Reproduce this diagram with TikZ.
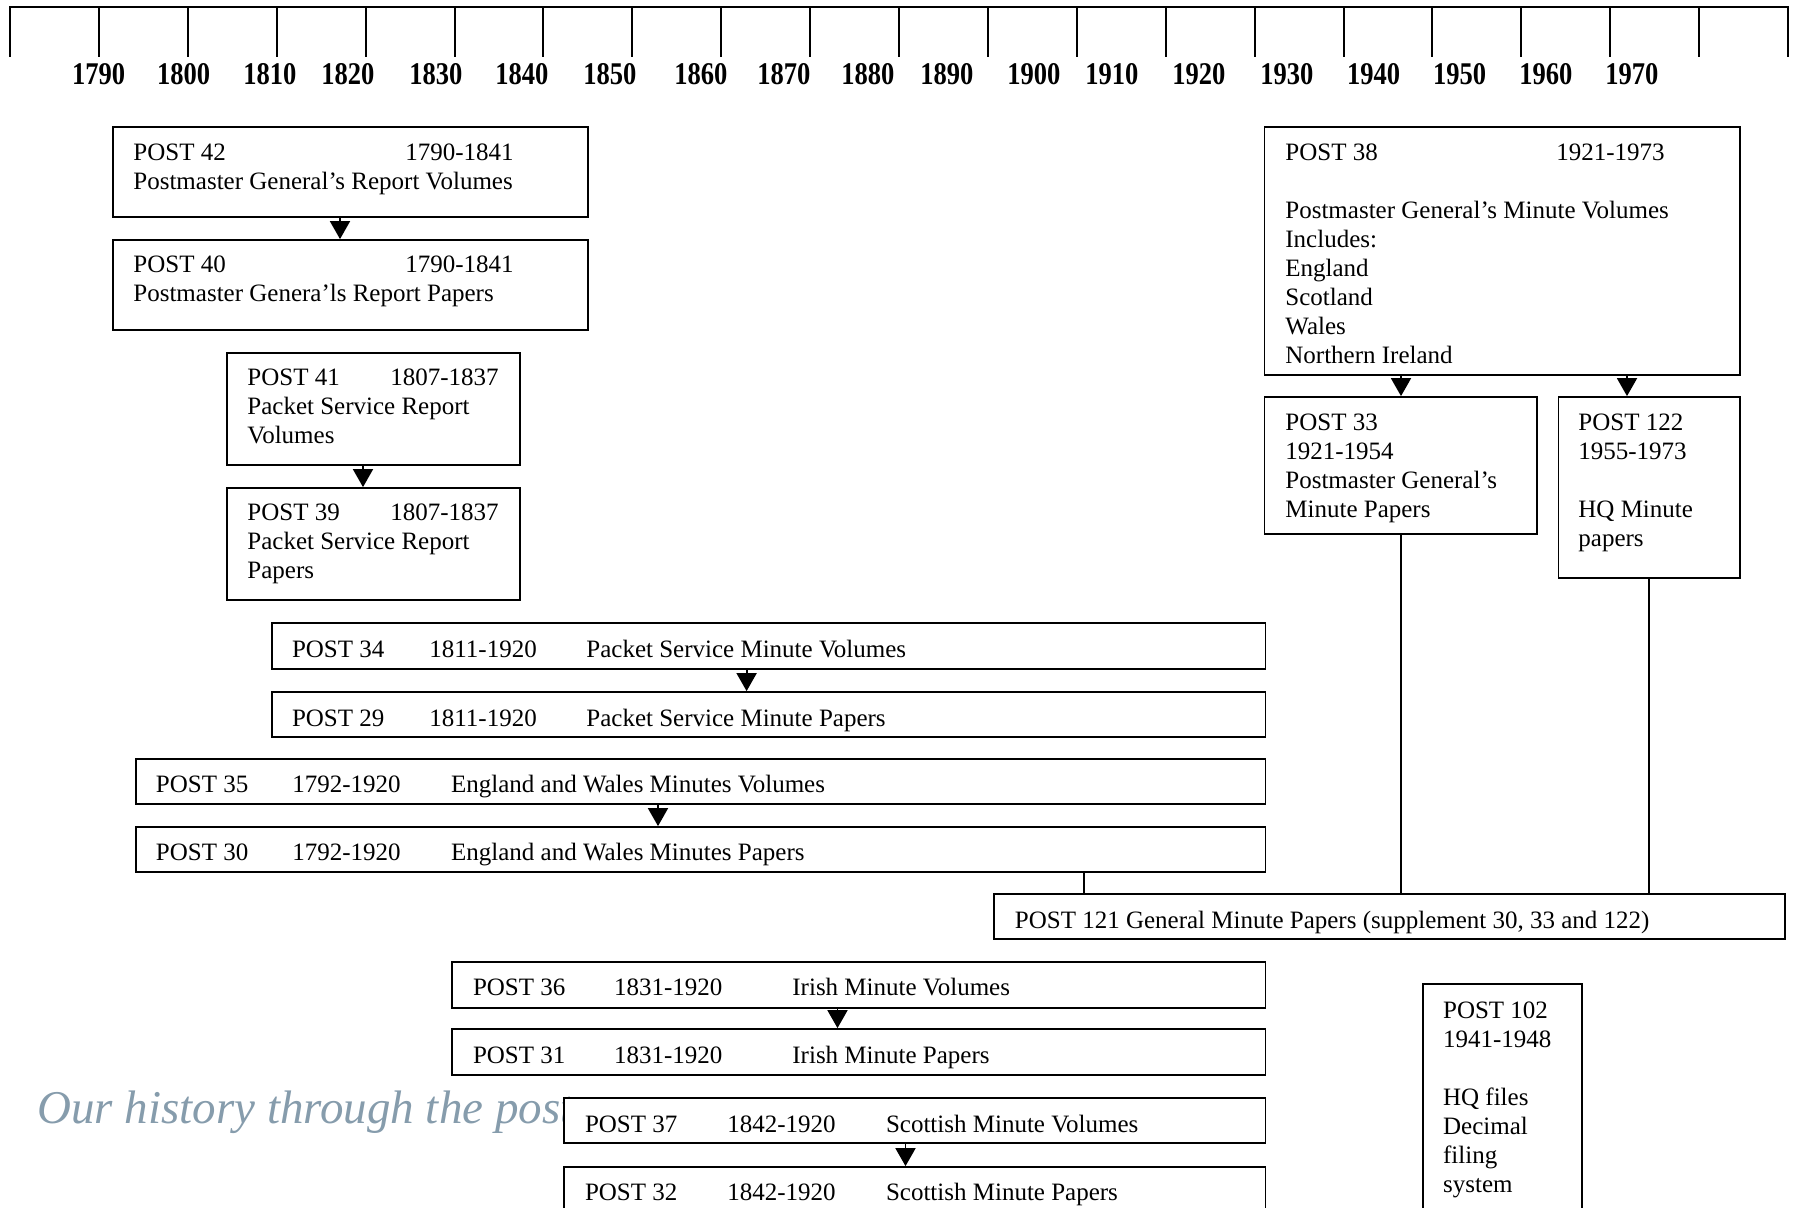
\documentclass[tikz,border=0pt]{standalone}
\usepackage{fontspec}
\setmainfont{Liberation Serif}
\usetikzlibrary{fit,arrows.meta}
\definecolor{wm}{RGB}{134,156,172}
\newcommand{\bodyfont}{\fontsize{12.5pt}{14.5pt}\selectfont}
\newcommand{\yearfont}{\fontsize{15.8pt}{18pt}\selectfont\bfseries}
\newcommand{\wmfont}{\fontsize{23.5pt}{28pt}\selectfont\itshape}
\newcommand{\boxlines}[1]{\vtop{\baselineskip=14.5pt\lineskiplimit=-100pt\halign{##\hfil\cr#1\crcr}}}
\begin{document}
\begin{tikzpicture}[x=0.5pt,y=-0.5pt,
  box/.style={draw, line width=0.9pt, fill=white, inner sep=0pt, rectangle},
  txt/.style={anchor=base west, inner sep=0pt, font=\bodyfont},
  yr/.style={anchor=base west, inner sep=0pt, font=\yearfont},
  rule/.style={line width=1pt},
  arr/.style={line width=0.9pt, -{Triangle[width=10pt,length=9pt]}},
  link/.style={line width=0.9pt}]
\useasboundingbox (0,0) rectangle (1793,1207);
\clip (0,0) rectangle (1793,1207);
% timeline
\draw[rule] (9,6.5) -- (1789,6.5);
\foreach \i in {0,...,20} \draw[rule] ({10+88.9*\i},6) -- ({10+88.9*\i},57);
\foreach \yv/\xv in {1790/71.7,1800/156.7,1810/243,1820/321,1830/409,1840/495,1850/583,1860/674,1870/757,1880/841,1890/920,1900/1007,1910/1085,1920/1172,1930/1260,1940/1346.7,1950/1432.7,1960/1519,1970/1605}
  \node[yr] (y\yv) at (\xv,84.5) {\scalebox{0.84}[1]{\yv}};
% watermark
\node[anchor=base west, inner sep=0pt, font=\wmfont, text=wm] (wm) at (37,1123) {Our history through the post};
% boxes
\node[box, fit={(113,127) (588,217)}] (p42) {};
\node[box, fit={(113,240) (588,330)}] (p40) {};
\node[box, fit={(227,353) (520,465)}] (p41) {};
\node[box, fit={(227,488) (520,600)}] (p39) {};
\node[box, fit={(272,623) (1265.5,669)}] (p34) {};
\node[box, fit={(272,692) (1265.5,737)}] (p29) {};
\node[box, fit={(136,759) (1265.5,804)}] (p35) {};
\node[box, fit={(136,827) (1265.5,872)}] (p30) {};
\node[box, fit={(994,894) (1785,939)}] (p121) {};
\node[box, fit={(452,962) (1265.5,1008)}] (p36) {};
\node[box, fit={(452,1029) (1265.5,1075)}] (p31) {};
\node[box, fit={(564,1098) (1265.5,1143)}] (p37) {};
\node[box, fit={(564,1167) (1265.5,1240)}] (p32) {};
\node[box, fit={(1264.5,127) (1740,375)}] (p38) {};
\node[box, fit={(1264.5,397) (1536.7,534)}] (p33) {};
\node[box, fit={(1558.5,397) (1740,578)}] (p122) {};
\node[box, fit={(1422.7,984) (1582.3,1240)}] (p102) {};
% connector columns
\coordinate (c1) at (340,0);
\coordinate (c2) at (363,0);
\coordinate (c3) at (746.6,0);
\coordinate (c4) at (658,0);
\coordinate (c5) at (837.5,0);
\coordinate (c6) at (905.5,0);
\coordinate (c7) at (1401,0);
\coordinate (c8) at (1627,0);
\coordinate (c9) at (1084,0);
\coordinate (c10) at (1649,0);
\draw[arr] (p42.south -| c1) -- (p40.north -| c1);
\draw[arr] (p41.south -| c2) -- (p39.north -| c2);
\draw[arr] (p34.south -| c3) -- (p29.north -| c3);
\draw[arr] (p35.south -| c4) -- (p30.north -| c4);
\draw[arr] (p36.south -| c5) -- (p31.north -| c5);
\draw[arr] (p37.south -| c6) -- (p32.north -| c6);
\draw[arr] (p38.south -| c7) -- (p33.north -| c7);
\draw[arr] (p38.south -| c8) -- (p122.north -| c8);
\draw[link] (p30.south -| c9) -- (p121.north -| c9);
\draw[link] (p33.south -| c7) -- (p121.north -| c7);
\draw[link] (p122.south -| c10) -- (p121.north -| c10);
% texts
\node[txt] (t42) at (133,160) {\boxlines{POST 42\cr Postmaster General’s Report Volumes}};
\node[txt] (d42) at (405,160) {1790-1841};
\node[txt] (t40) at (133,272) {\boxlines{POST 40\cr Postmaster Genera’ls Report Papers}};
\node[txt] (d40) at (405,272) {1790-1841};
\node[txt] (t41) at (247,385) {\boxlines{POST 41\cr Packet Service Report\cr Volumes}};
\node[txt] (d41) at (390,385) {1807-1837};
\node[txt] (t39) at (247,520) {\boxlines{POST 39\cr Packet Service Report\cr Papers}};
\node[txt] (d39) at (390,520) {1807-1837};
\node[txt] (a34) at (291.6,657) {POST 34};
\node[txt] (b34) at (429,657) {1811-1920};
\node[txt] (e34) at (586,657) {Packet Service Minute Volumes};
\node[txt] (a29) at (291.6,726) {POST 29};
\node[txt] (b29) at (429,726) {1811-1920};
\node[txt] (e29) at (586,726) {Packet Service Minute Papers};
\node[txt] (a35) at (155.5,792) {POST 35};
\node[txt] (b35) at (292,792) {1792-1920};
\node[txt] (e35) at (450.7,792) {England and Wales Minutes Volumes};
\node[txt] (a30) at (155.5,860) {POST 30};
\node[txt] (b30) at (292,860) {1792-1920};
\node[txt] (e30) at (450.7,860) {England and Wales Minutes Papers};
\node[txt] (t121) at (1014.5,928) {POST 121 General Minute Papers (supplement 30, 33 and 122)};
\node[txt] (a36) at (472.6,995) {POST 36};
\node[txt] (b36) at (613.6,995) {1831-1920};
\node[txt] (e36) at (792,995) {Irish Minute Volumes};
\node[txt] (a31) at (472.6,1063) {POST 31};
\node[txt] (b31) at (613.6,1063) {1831-1920};
\node[txt] (e31) at (792,1063) {Irish Minute Papers};
\node[txt] (a37) at (584.6,1132) {POST 37};
\node[txt] (b37) at (727,1132) {1842-1920};
\node[txt] (e37) at (885.6,1132) {Scottish Minute Volumes};
\node[txt] (a32) at (584.6,1200) {POST 32};
\node[txt] (b32) at (727,1200) {1842-1920};
\node[txt] (e32) at (885.6,1200) {Scottish Minute Papers};
\node[txt] (t38) at (1285,160) {\boxlines{POST 38\cr\cr Postmaster General’s Minute Volumes\cr Includes:\cr England\cr Scotland\cr Wales\cr Northern Ireland}};
\node[txt] (d38) at (1556,160) {1921-1973};
\node[txt] (t33) at (1285,430) {\boxlines{POST 33\cr 1921-1954\cr Postmaster General’s\cr Minute Papers}};
\node[txt] (t122) at (1578,430) {\boxlines{POST 122\cr 1955-1973\cr\cr HQ Minute\cr papers}};
\node[txt] (t102) at (1442.7,1018) {\boxlines{POST 102\cr 1941-1948\cr\cr HQ files\cr Decimal\cr filing\cr system}};
\end{tikzpicture}
\end{document}
